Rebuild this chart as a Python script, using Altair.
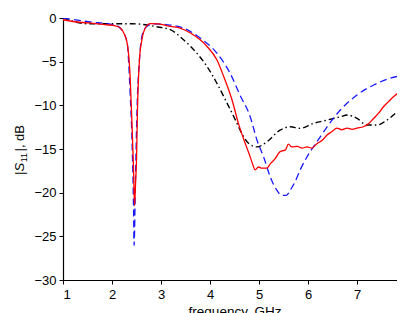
import altair as alt
import pandas as pd

# ---- data ----
red_f = [1.0, 1.2, 1.52, 1.86, 2.07, 2.17, 2.24, 2.31, 2.37, 2.41, 2.44, 2.46, 2.48, 2.50, 2.52, 2.56,
         2.61, 2.68, 2.78, 2.95, 3.19, 3.39, 3.60, 3.80, 3.94, 4.14, 4.28, 4.45, 4.58, 4.72, 4.82, 4.88,
         4.92, 4.99, 5.06, 5.16, 5.23, 5.33, 5.43, 5.54, 5.60, 5.67, 5.78, 5.88, 5.98, 6.08, 6.18, 6.29,
         6.39, 6.49, 6.59, 6.69, 6.80, 6.90, 7.0, 7.13, 7.24, 7.34, 7.44, 7.54, 7.64, 7.75, 7.88, 8.0]
red_s = [-0.2, -0.4, -0.57, -0.77, -0.89, -1.15, -1.72, -2.87, -6.7, -12.5, -17.4, -21.5, -19.0, -16.3,
         -10.5, -4.8, -2.5, -1.15, -0.65, -0.68, -0.97, -1.15, -1.72, -2.5, -3.26, -4.79, -6.71, -9.39,
         -12.07, -14.37, -15.9, -16.9, -17.4, -17.06, -17.2, -17.2, -16.7, -16.1, -15.3, -15.1, -14.45,
         -14.76, -14.7, -14.9, -14.76, -14.9, -14.4, -14.0, -13.4, -13.0, -12.6, -12.8, -12.6, -12.75,
         -12.6, -12.45, -12.07, -11.5, -10.9, -10.16, -9.6, -9.0, -8.4, -7.8]

blue_f = [1.0, 1.52, 2.07, 2.17, 2.24, 2.31, 2.37, 2.41, 2.44, 2.45, 2.48, 2.51, 2.56, 2.61, 2.71, 2.85,
          3.1, 3.46, 3.80, 4.14, 4.41, 4.61, 4.82, 4.96, 5.1, 5.23, 5.35, 5.47, 5.56, 5.64, 5.74, 5.84,
          5.97, 6.11, 6.25, 6.39, 6.66, 7.0, 7.34, 7.68, 8.0]
blue_s = [0.0, -0.43, -0.83, -1.17, -1.72, -2.87, -8.62, -14.37, -22.0, -26.05, -18.2, -10.54, -4.79,
          -2.11, -0.97, -0.66, -0.75, -1.15, -2.30, -4.02, -6.32, -8.8, -11.3, -14.0, -16.0, -18.2,
          -19.6, -20.3, -20.3, -19.7, -18.7, -17.4, -16.0, -14.76, -13.6, -12.46, -10.54, -8.82, -7.67,
          -6.9, -6.5]

black_f = [1.0, 1.52, 2.0, 2.41, 2.68, 2.88, 3.19, 3.46, 3.73, 3.94, 4.14, 4.35, 4.52, 4.65, 4.79,
           4.96, 5.16, 5.43, 5.64, 5.84, 6.11, 6.39, 6.66, 6.80, 7.0, 7.20, 7.41, 7.61, 7.82, 8.0]
black_s = [0.0, -0.66, -0.66, -0.66, -0.77, -0.97, -1.34, -2.49, -4.02, -5.56, -7.47, -9.77, -11.69,
           -13.22, -14.37, -14.76, -14.18, -12.84, -12.46, -12.64, -12.07, -11.69, -11.31, -11.11,
           -11.49, -12.26, -12.26, -11.69, -10.74, -9.77]

x_ticks = [1, 2, 3, 4, 5, 6, 7, 8]
y_ticks = [0, -5, -10, -15, -20, -25, -30]

FONT = "Liberation Sans"

xs = alt.X("f:Q", scale=alt.Scale(domain=[1, 8], nice=False, zero=False),
           axis=alt.Axis(values=x_ticks, title="frequency, GHz", format="d"))
ys = alt.Y("s:Q", scale=alt.Scale(domain=[-30, 0], nice=False, zero=False),
           axis=alt.Axis(values=y_ticks, title=None, format="d"))


def series(f, s):
    return pd.DataFrame({"f": f, "s": s})


black = alt.Chart(series(black_f, black_s)).mark_line(
    color="black", strokeWidth=1.4, strokeDash=[6, 3, 1.5, 3], clip=True, interpolate="monotone"
).encode(x=xs, y=ys)

blue = alt.Chart(series(blue_f, blue_s)).mark_line(
    color="#1a1aff", strokeWidth=1.3, strokeDash=[7, 4], clip=True, interpolate="monotone"
).encode(x=xs, y=ys)

red = alt.Chart(series(red_f, red_s)).mark_line(
    color="#ff0000", strokeWidth=1.3, clip=True, interpolate="monotone"
).encode(x=xs, y=ys)

# y-axis title "|S11|, dB" built from pieces (italic S, subscript 11)
one = pd.DataFrame({"k": [0]})
tx = -39
t1 = alt.Chart(one).mark_text(text="|", font=FONT, fontSize=13, angle=270, align="left",
                              baseline="alphabetic", color="black").encode(x=alt.value(tx), y=alt.value(157))
t2 = alt.Chart(one).mark_text(text="S", font=FONT, fontSize=13, fontStyle="italic", angle=270,
                              align="left", baseline="alphabetic", color="black").encode(x=alt.value(tx), y=alt.value(153.4))
t3 = alt.Chart(one).mark_text(text="11", font=FONT, fontSize=9, angle=270, align="left",
                              baseline="alphabetic", color="black").encode(x=alt.value(tx + 3), y=alt.value(144.3))
t4 = alt.Chart(one).mark_text(text="|, dB", font=FONT, fontSize=13, angle=270, align="left",
                              baseline="alphabetic", color="black").encode(x=alt.value(tx), y=alt.value(133.5))

chart = alt.layer(black, blue, red, t1, t2, t3, t4).properties(
    width=343, height=262,
    autosize=alt.AutoSizeParams(type="none"),
    padding={"left": 55, "top": 10, "right": -9, "bottom": 40},
).configure_view(stroke=None).configure_axis(
    grid=False, domainColor="black", domainWidth=1.2, tickColor="black", tickSize=4, tickWidth=1,
    labelFont=FONT, labelFontSize=13, labelColor="black", titleFont=FONT, titleFontSize=13.5,
    titleColor="black", titleFontWeight="normal", labelPadding=3
).configure_axisX(labelPadding=4, titlePadding=3)

chart.save("out.html", embed_options={"renderer": "svg", "actions": False})
